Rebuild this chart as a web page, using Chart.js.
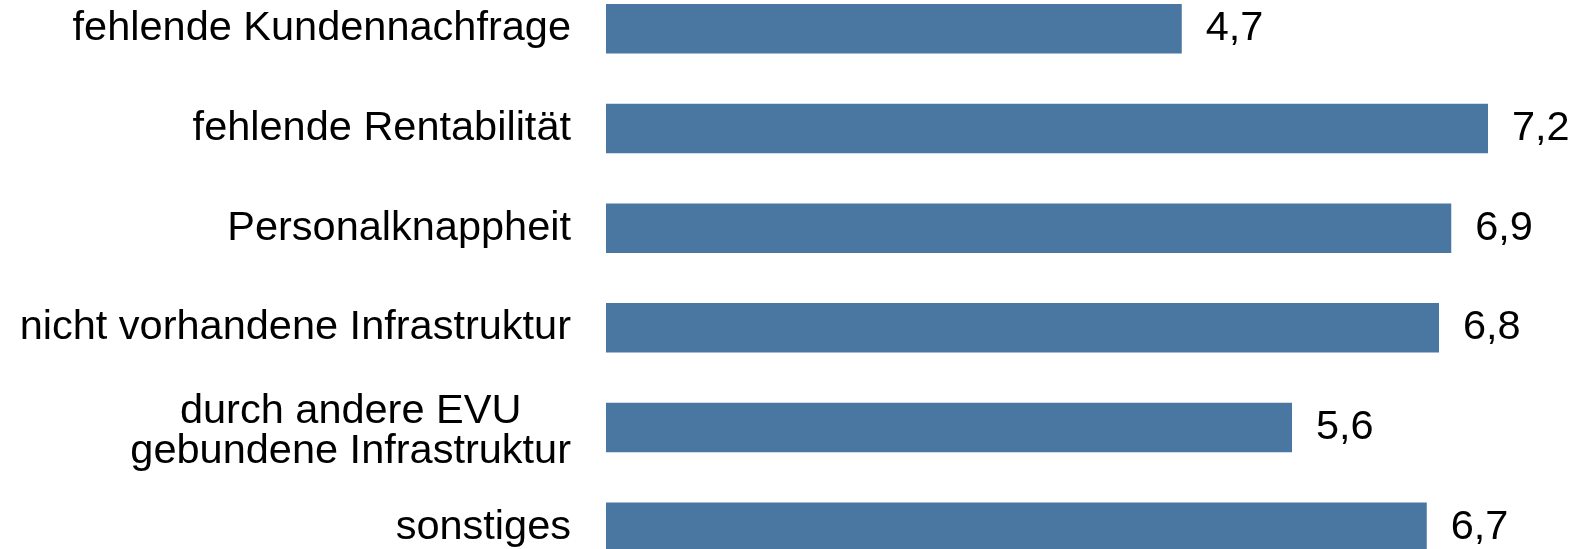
<!DOCTYPE html>
<html>
<head>
<meta charset="utf-8">
<script src="https://cdn.jsdelivr.net/npm/chart.js@4"></script>
<style>
  html, body { margin: 0; padding: 0; background: #fff; overflow: hidden; }
  body { width: 1587px; height: 549px; position: relative; }
  .chart-wrap { position: absolute; left: 0; top: -21px; width: 1587px; height: 598px; }
</style>
</head>
<body>
<div class="chart-wrap"><canvas id="chart-reasons"></canvas></div>
<script>
const categories = [
  "fehlende Kundennachfrage",
  "fehlende Rentabilität",
  "Personalknappheit",
  "nicht vorhandene Infrastruktur",
  ["durch andere EVU", "gebundene Infrastruktur"],
  "sonstiges",
];
const values = [4.7, 7.2, 6.9, 6.8, 5.6, 6.7];

const BAR_COLOR = "#4a77a1";
const FONT = "41.5px 'Liberation Sans', Arial, sans-serif";

// category labels (right-aligned block, multi-line centred) + value labels
const labelPlugin = {
  id: "labels",
  afterDatasetsDraw(chart) {
    const { ctx, chartArea, scales } = chart;
    ctx.save();
    ctx.font = FONT;
    ctx.fillStyle = "#000";
    ctx.textBaseline = "middle";

    const right = chartArea.left - 35;
    const lineH = 40;
    categories.forEach((label, i) => {
      const y = scales.y.getPixelForValue(i);
      if (Array.isArray(label)) {
        const widest = Math.max(...label.map((l) => ctx.measureText(l).width));
        ctx.textAlign = "center";
        const top = y + 4 - ((label.length - 1) * lineH) / 2;
        label.forEach((l, j) => ctx.fillText(l, right - widest / 2, top + j * lineH));
      } else {
        ctx.textAlign = "right";
        ctx.fillText(label, right, y);
      }
    });

    ctx.textAlign = "left";
    chart.getDatasetMeta(0).data.forEach((bar, i) => {
      ctx.fillText(values[i].toFixed(1).replace(".", ","), bar.x + 24, bar.y);
    });
    ctx.restore();
  },
};

new Chart(document.getElementById("chart-reasons"), {
  type: "bar",
  data: {
    labels: categories,
    datasets: [
      {
        data: values,
        backgroundColor: BAR_COLOR,
        borderWidth: 0,
        barPercentage: 0.497,
        categoryPercentage: 1,
      },
    ],
  },
  options: {
    indexAxis: "y",
    responsive: true,
    maintainAspectRatio: false,
    animation: false,
    layout: { padding: { left: 606, right: 1, top: 0, bottom: 0 } },
    scales: {
      x: { display: false, min: 0, max: 8 },
      y: { display: false },
    },
    plugins: {
      legend: { display: false },
      tooltip: { enabled: false },
    },
  },
  plugins: [labelPlugin],
});
</script>
</body>
</html>
